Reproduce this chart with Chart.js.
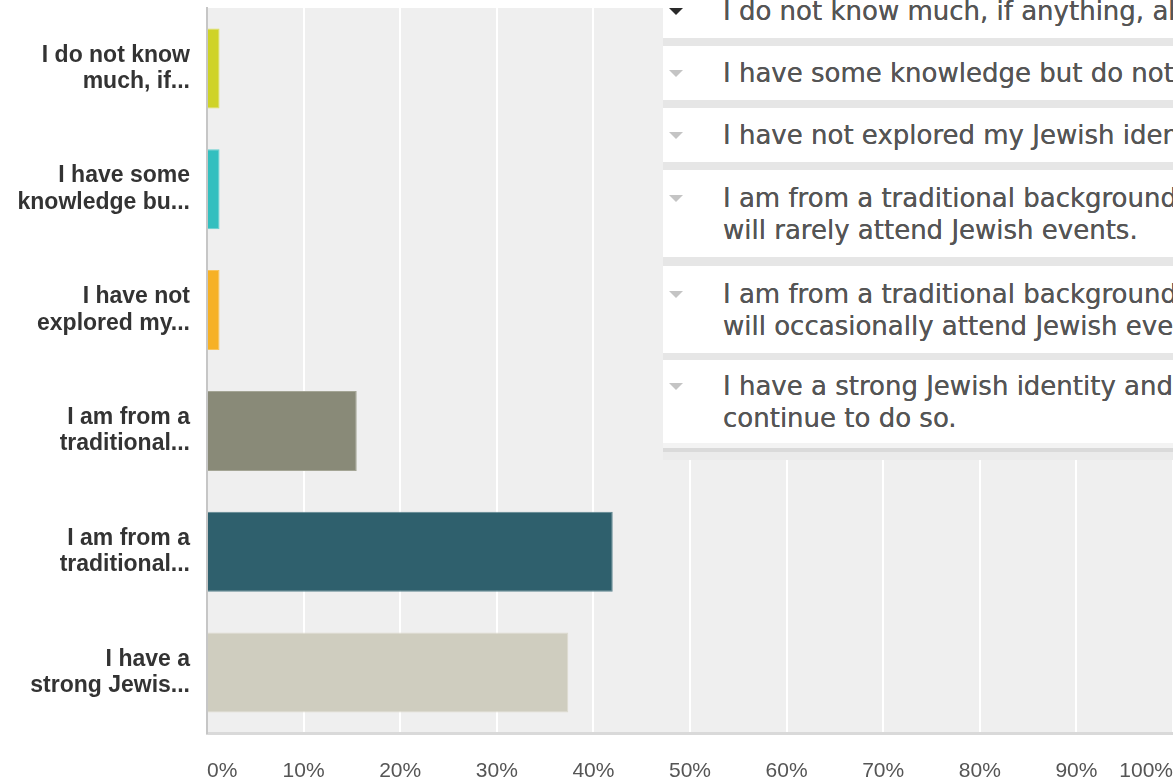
<!DOCTYPE html>
<html>
<head>
<meta charset="utf-8">
<script src="https://cdn.jsdelivr.net/npm/chart.js@4.4.1/dist/chart.umd.min.js"></script>
<style>
  body { margin: 0; background: #fff; }
  #wrap { position: relative; width: 1173px; height: 780px; overflow: hidden; }
  #panel { position: absolute; left: 663px; top: 0; width: 510px; height: 460px; overflow: hidden; background: #e6e6e6; }
  .row { position: absolute; left: 0; width: 1200px; background: #fff; display: flex; align-items: center; }
  .row .txt { padding-left: 60px; font: 26px "DejaVu Sans", sans-serif; line-height: 32px; color: #555; white-space: nowrap; text-shadow: 0 0 0.6px #555; }
  .row .ico { position: absolute; left: 6px; width: 0; height: 0; border-left: 7px solid transparent; border-right: 7px solid transparent; border-top: 7px solid #c4c4c4; }
  .strip { position: absolute; left: 0; width: 100%; }
</style>
</head>
<body>
<div id="wrap">
  <canvas id="chart" width="1173" height="780"></canvas>
  <div id="panel"></div>
</div>
<script>
const categories = [
  ['I do not know', 'much, if...'],
  ['I have some', 'knowledge bu...'],
  ['I have not', 'explored my...'],
  ['I am from a', 'traditional...'],
  ['I am from a', 'traditional...'],
  ['I have a', 'strong Jewis...'],
];
const values = [1.3, 1.3, 1.3, 15.5, 42.0, 37.4];
const barColors = ['#cfd327', '#33bfbf', '#f6b126', '#898a78', '#2f606d', '#cfcdbf'];
const barBorders = ['#dde062', '#66d0d0', '#f8c45e', '#a4a595', '#5d8590', '#dddbcf'];
const legendRows = [
  ['I do not know much, if anything, about'],
  ['I have some knowledge but do not'],
  ['I have not explored my Jewish identity'],
  ['I am from a traditional background', 'will rarely attend Jewish events.'],
  ['I am from a traditional background', 'will occasionally attend Jewish events.'],
  ['I have a strong Jewish identity and', 'continue to do so.'],
];

// panel rows (top, height) in px
const rowBoxes = [[-16, 54], [46, 54], [108, 54], [170, 87], [266, 87], [360, 83]];
const panel = document.getElementById('panel');
panel.innerHTML = legendRows.map((lines, i) => {
  const [top, h] = rowBoxes[i];
  const textTop = (h - lines.length * 32) / 2;
  const icoTop = textTop + 16 - 3;
  const icoColor = i === 0 ? '#2a2a2a' : '#c4c4c4';
  return `<div class="row" style="top:${top}px;height:${h}px">
    <div class="ico" style="top:${icoTop}px;border-top-color:${icoColor}"></div>
    <div class="txt">${lines.join('<br>')}</div>
  </div>`;
}).join('') +
  '<div class="strip" style="top:443px;height:5px;background:#f3f3f3"></div>' +
  '<div class="strip" style="top:448px;height:4px;background:#dadada"></div>' +
  '<div class="strip" style="top:452px;height:8px;background:#ebebeb"></div>';

const plotBg = {
  id: 'plotBg',
  beforeDraw(chart) {
    const { ctx, chartArea: a } = chart;
    ctx.save();
    ctx.fillStyle = '#efefef';
    ctx.fillRect(a.left, a.top, a.right - a.left, a.bottom - a.top);
    ctx.restore();
  },
};

new Chart(document.getElementById('chart'), {
  type: 'bar',
  data: {
    labels: categories,
    datasets: [{
      data: values,
      backgroundColor: barColors,
      borderColor: barBorders,
      borderWidth: 1,
      barPercentage: 0.662,
      categoryPercentage: 1,
    }],
  },
  options: {
    indexAxis: 'y',
    responsive: false,
    animation: false,
    layout: { padding: { top: 8, right: 0, left: 0, bottom: 0 } },
    plugins: { legend: { display: false }, tooltip: { enabled: false } },
    scales: {
      x: {
        min: 0,
        max: 100,
        afterFit: (s) => { s.height = 47; s.paddingLeft = 0; s.paddingRight = 0; },
        ticks: {
          stepSize: 10,
          align: 'inner',
          maxRotation: 0,
          autoSkip: false,
          padding: 26,
          color: '#555',
          font: { family: '"Liberation Sans", Arial, sans-serif', size: 21 },
          callback: (v) => v + '%',
        },
        grid: {
          color: (c) => (c.index === 0 ? 'rgba(0,0,0,0)' : '#ffffff'),
          lineWidth: 2,
          drawTicks: false,
        },
        border: { color: '#d9d9d9', width: 3 },
      },
      y: {
        afterFit: (s) => { s.width = 207; s.paddingTop = 0; s.paddingBottom = 0; },
        ticks: {
          padding: 17,
          color: '#333',
          font: { family: '"Liberation Sans", Arial, sans-serif', size: 23, weight: 'bold', lineHeight: 1.15 },
        },
        grid: { display: false, drawTicks: false },
        border: { color: '#c6c6c6', width: 2 },
      },
    },
  },
  plugins: [plotBg],
});
</script>
</body>
</html>
